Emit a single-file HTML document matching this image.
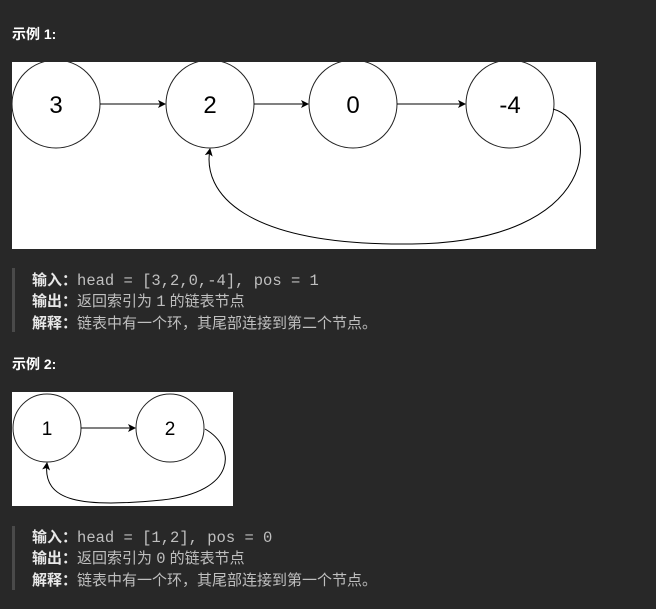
<!DOCTYPE html>
<html><head><meta charset="utf-8"><style>
body{margin:0;background:#282828;width:656px;height:609px;position:relative;overflow:hidden;font-family:"Liberation Sans","Noto Sans CJK SC",sans-serif;color:#bfbfbf;font-size:15px}
.t{position:absolute;white-space:nowrap}
.h{color:#fff;font-weight:bold;font-size:14px}
b{color:#e8e8e8}
code{font-family:"Liberation Mono","Noto Sans CJK SC",monospace;font-size:15.5px;color:#bfbfbf}
.bar{position:absolute;left:12px;width:3px;background:#4a4a4a}
</style></head><body>
<div class="t h" style="left:12px;top:24px">示例 1:</div>
<svg style="position:absolute;left:12px;top:62px" width="584" height="187">
<defs><marker id="a" markerWidth="8" markerHeight="8" refX="7" refY="4" orient="auto" markerUnits="userSpaceOnUse"><path d="M0,0L8,4L0,8L2,4z" fill="#000"/></marker></defs>
<rect width="584" height="187" fill="#fff"/>
<g fill="#fff" stroke="#222" stroke-width="1">
<circle cx="44" cy="42" r="44"/><circle cx="198" cy="42" r="44"/><circle cx="341" cy="42" r="44"/><circle cx="498" cy="42" r="44"/></g>
<g font-family="Liberation Sans" font-size="24" text-anchor="middle" fill="#000">
<text x="44" y="51">3</text><text x="198" y="51">2</text><text x="341" y="51">0</text><text x="498" y="51">-4</text></g>
<g stroke="#000" fill="none" marker-end="url(#a)">
<line x1="88" y1="42" x2="153" y2="42"/><line x1="242" y1="42" x2="296" y2="42"/><line x1="385" y1="42" x2="453" y2="42"/>
<path d="M541,47 C590,60 590,180 400,182 C230,184 190,130 198,87"/></g>
</svg>
<div class="bar" style="top:268px;height:64px"></div>
<div class="t" style="left:32px;top:269px"><b>输入：</b><code>head = [3,2,0,-4], pos = 1</code></div>
<div class="t" style="left:32px;top:290px"><b>输出：</b>返回索引为 <code>1</code> 的链表节点</div>
<div class="t" style="left:32px;top:312px"><b>解释：</b>链表中有一个环，其尾部连接到第二个节点。</div>
<div class="t h" style="left:12px;top:354px">示例 2:</div>
<svg style="position:absolute;left:12px;top:392px" width="221" height="114">
<rect width="221" height="114" fill="#fff"/>
<g fill="#fff" stroke="#222"><circle cx="35" cy="36" r="34"/><circle cx="158" cy="36" r="34"/></g>
<g font-family="Liberation Sans" font-size="19" text-anchor="middle" fill="#000"><text x="35" y="43">1</text><text x="158" y="43">2</text></g>
<g stroke="#000" fill="none" marker-end="url(#a)">
<line x1="69" y1="36" x2="123" y2="36"/>
<path d="M193,37 C225,55 225,100 150,108 C70,116 30,110 35,71"/></g>
</svg>
<div class="bar" style="top:526px;height:64px"></div>
<div class="t" style="left:32px;top:526px"><b>输入：</b><code>head = [1,2], pos = 0</code></div>
<div class="t" style="left:32px;top:547px"><b>输出：</b>返回索引为 <code>0</code> 的链表节点</div>
<div class="t" style="left:32px;top:569px"><b>解释：</b>链表中有一个环，其尾部连接到第一个节点。</div>
</body></html>
